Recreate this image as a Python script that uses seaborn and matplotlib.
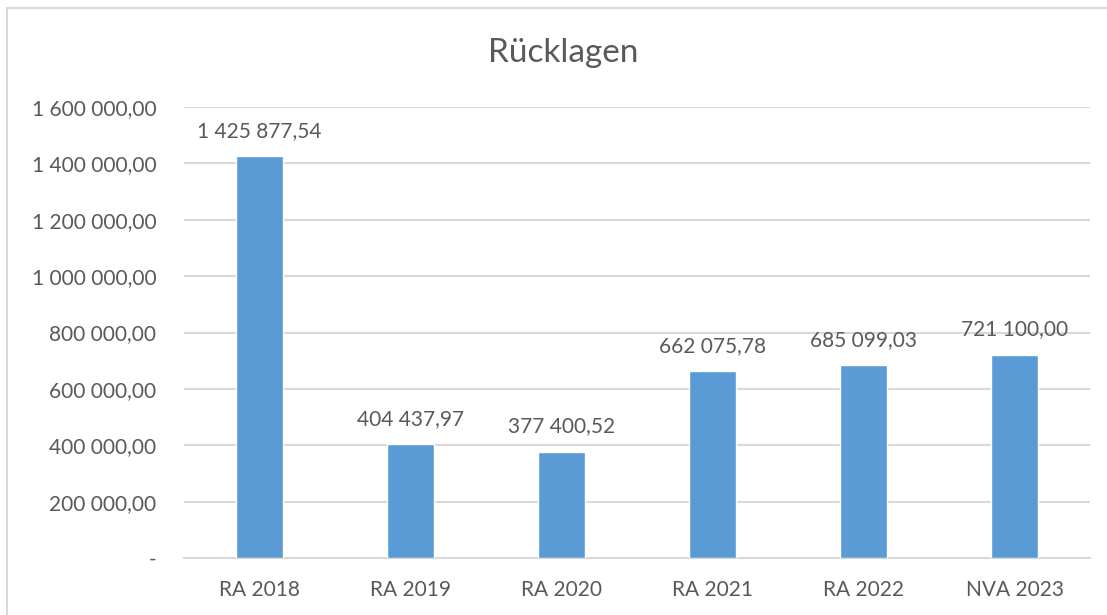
import matplotlib
matplotlib.use("Agg")
import matplotlib.pyplot as plt
import matplotlib.ticker as mticker
import pandas as pd
import seaborn as sns

# Chart data
categories = ["RA 2018", "RA 2019", "RA 2020", "RA 2021", "RA 2022", "NVA 2023"]
values = [1425877.54, 404437.97, 377400.52, 662075.78, 685099.03, 721100.00]
y_ticks = [0, 200000, 400000, 600000, 800000, 1000000, 1200000, 1400000, 1600000]

df = pd.DataFrame({"category": categories, "value": values})

sns.set_theme(style="white")
plt.rcParams["font.family"] = ["Lato", "DejaVu Sans"]

text_color = "#595959"
bar_color = "#5b9bd5"
grid_color = "#d9d9d9"


def de_format(v, pos=None):
    # Excel-like number format: space as thousands separator, comma decimals
    if v == 0:
        return "-"
    s = f"{v:,.2f}"
    return s.replace(",", " ").replace(".", ",")


fig = plt.figure(figsize=(11.07, 6.15), dpi=100)
ax = fig.add_axes([184 / 1107, 1 - 558 / 615, (1090 - 184) / 1107, (558 - 107) / 615])

sns.barplot(data=df, x="category", y="value", color=bar_color, width=0.31,
            saturation=1, ax=ax, zorder=3)

ax.set_ylim(0, 1600000)
ax.set_xlim(-0.5, len(categories) - 0.5)
ax.set_yticks(y_ticks)
ax.yaxis.set_major_formatter(mticker.FuncFormatter(de_format))
ax.grid(axis="y", color=grid_color, linewidth=1.5, zorder=0)
ax.set_axisbelow(True)

for side in ["top", "right", "left"]:
    ax.spines[side].set_visible(False)
ax.spines["bottom"].set_color(grid_color)
ax.spines["bottom"].set_linewidth(1.5)

ax.tick_params(axis="both", length=0, labelsize=15, colors=text_color)
ax.tick_params(axis="x", pad=16)
ax.tick_params(axis="y", pad=20)
ax.set_xlabel("")
ax.set_ylabel("")

# Value labels on top of bars
for i, v in enumerate(values):
    ax.annotate(de_format(v), (i, v), xytext=(0, 11), textcoords="offset points",
                ha="center", va="bottom", fontsize=15, color=text_color)

fig.text(563 / 1107, 1 - 53 / 615, "Rücklagen", ha="center", va="center",
         fontsize=24, color=text_color)

# Chart area border
fig.patches.append(plt.Rectangle((7 / 1107, -0.1), 1.2, 1 - 8 / 615 + 0.1,
                                 transform=fig.transFigure, fill=False,
                                 edgecolor=grid_color, linewidth=1.5))

fig.savefig("out.png", dpi=100)
